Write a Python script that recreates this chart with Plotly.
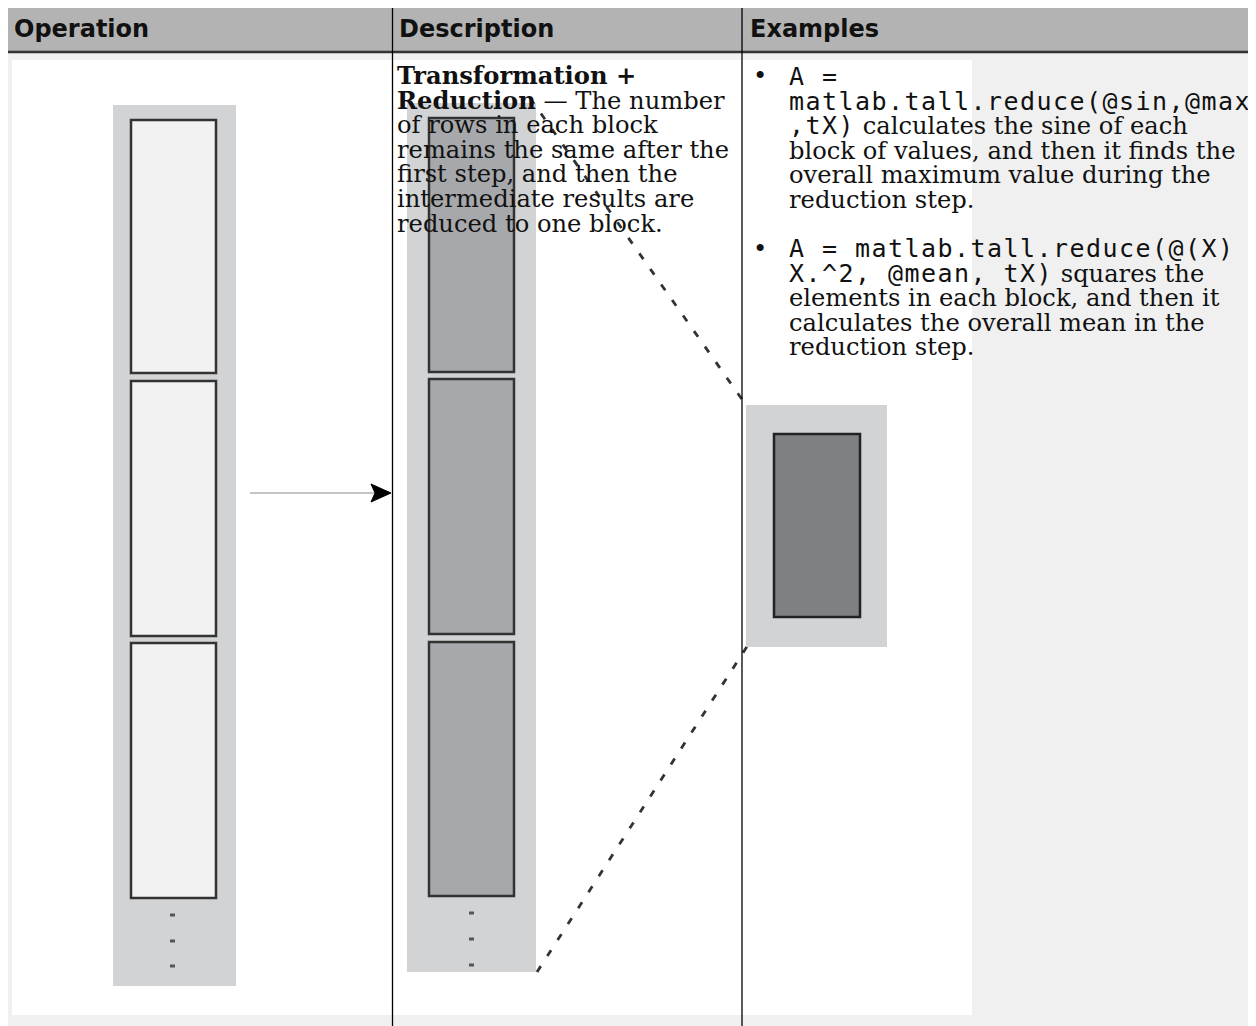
import plotly.graph_objects as go

# ---------------- data ----------------
headers = ["Operation", "Description", "Examples"]

desc_lines = [
    "<b>Transformation +</b>",
    "<b>Reduction</b> — The number",
    "of rows in each block",
    "remains the same after the",
    "first step, and then the",
    "intermediate results are",
    "reduced to one block.",
]

MONO = "font-family:'DejaVu Sans Mono';font-size:25px;letter-spacing:1.45px"
def code(s):
    return f"<span style=\"{MONO}\">{s}</span>"

example1 = [
    code("A ="),
    code("matlab.tall.reduce(@sin,@max"),
    code(",tX)") + " calculates the sine of each",
    "block of values, and then it finds the",
    "overall maximum value during the",
    "reduction step.",
]
example2 = [
    code("A = matlab.tall.reduce(@(X)"),
    code("X.^2, @mean, tX)") + " squares the",
    "elements in each block, and then it",
    "calculates the overall mean in the",
    "reduction step.",
]

# block stages of the diagram (top, bottom of each block)
input_blocks = [(120, 373), (381, 636), (643, 898)]
transformed_blocks = [(118, 372), (379, 634), (642, 896)]
reduced_block = (434, 617)
input_dots = [915, 941, 966]
transformed_dots = [913, 939, 965]

# ---------------- figure ----------------
fig = go.Figure()
shapes = []
ann = []

def rect(x0, y0, x1, y1, fill, line_color=None, width=0, layer="below"):
    shapes.append(dict(type="rect", x0=x0, y0=y0, x1=x1, y1=y1, xref="x", yref="y",
                       fillcolor=fill, layer=layer,
                       line=dict(color=line_color or fill, width=width)))

def line(x0, y0, x1, y1, color, width=1, dash=None, layer="below"):
    d = dict(color=color, width=width)
    if dash:
        d["dash"] = dash
    shapes.append(dict(type="line", x0=x0, y0=y0, x1=x1, y1=y1, xref="x", yref="y",
                       line=d, layer=layer))

# table background
rect(5, 7, 1253, 52, "#b3b3b3")
rect(5, 52, 1253, 1040, "#f0f0f0")
# image (white)
rect(12, 60, 972, 1015, "#ffffff")

# left strip + input blocks
rect(113, 105, 236, 986, "#d2d3d5")
for t, b in input_blocks:
    rect(131, t, 216, b, "#f2f2f2", "#333333", 2.5)
for y in input_dots:
    rect(170, y - 1.5, 175, y + 1.5, "#555555")

# arrow
line(250, 493, 374, 493, "#8c8c8c", 1.2)
shapes.append(dict(type="path", path="M 371 484 L 391 493 L 371 502 L 375 493 Z",
                   xref="x", yref="y", fillcolor="#000000", line=dict(color="#000000", width=1),
                   layer="below"))

# middle strip + transformed blocks
rect(407, 103, 536, 972, "#d2d3d5")
for t, b in transformed_blocks:
    rect(429, t, 514, b, "#a7a8ab", "#333333", 2.5)
for y in transformed_dots:
    rect(469, y - 1.5, 474, y + 1.5, "#555555")

# dashed connectors
line(530, 98, 746, 405, "#333333", 2.8, dash="7px,12px")
line(537, 972, 748, 645, "#333333", 2.8, dash="7px,12px")

# reduced block
rect(746, 405, 887, 647, "#d2d3d5")
rect(774, reduced_block[0], 860, reduced_block[1], "#7f8084", "#222222", 2.5)

# table lines (drawn above image)
line(5, 7, 1253, 7, "#333333", 1.5)
line(5, 52, 1253, 52, "#333333", 2.5)
line(5, 7, 5, 1040, "#000000", 2.5)
line(1253, 7, 1253, 1040, "#000000", 2.5)
line(392.5, 7, 392.5, 1040, "#000000", 1.3)
line(742, 7, 742, 1040, "#000000", 1.3)

# ---------------- text ----------------
SERIF = "DejaVu Serif"
SERIF_SIZE = 24.2
LINE_H = 24.6
BASE = LINE_H / 1.3  # plotly line spacing is 1.3 em of the base font


def para(x, y_first, lines):
    body = "<br>".join(f"<span style=\"font-size:{SERIF_SIZE}px\">{l}</span>" for l in lines)
    yc = y_first + (len(lines) - 1) * LINE_H / 2
    ann.append(dict(x=x, y=yc, xref="x", yref="y", text=body, showarrow=False,
                    xanchor="left", yanchor="middle", align="left",
                    font=dict(family=SERIF, size=BASE, color="#111111")))


def text(x, y, s, size=SERIF_SIZE, family=SERIF, color="#111111"):
    ann.append(dict(x=x, y=y, xref="x", yref="y", text=s, showarrow=False,
                    xanchor="left", yanchor="middle",
                    font=dict(family=family, size=size, color=color)))


for x, hd in zip([12, 397, 748], headers):
    text(x, 29, f"<b>{hd}</b>", size=24, family="DejaVu Sans")

para(395, 76, desc_lines)
para(787, 76, example1)
para(787, 248.5, example2)
text(751, 76, "•")
text(751, 248.5, "•")

# page body has an 8px margin: shift the axis ranges so data coords = screen pixels
OFF = 8
fig.update_layout(
    width=1256, height=1026,
    margin=dict(l=0, r=0, t=0, b=0),
    paper_bgcolor="#ffffff", plot_bgcolor="#ffffff",
    xaxis=dict(range=[OFF, 1256 + OFF], visible=False, fixedrange=True),
    yaxis=dict(range=[1026 + OFF, OFF], visible=False, fixedrange=True),
    shapes=shapes, annotations=ann, showlegend=False,
)

fig.write_html("out.html")
